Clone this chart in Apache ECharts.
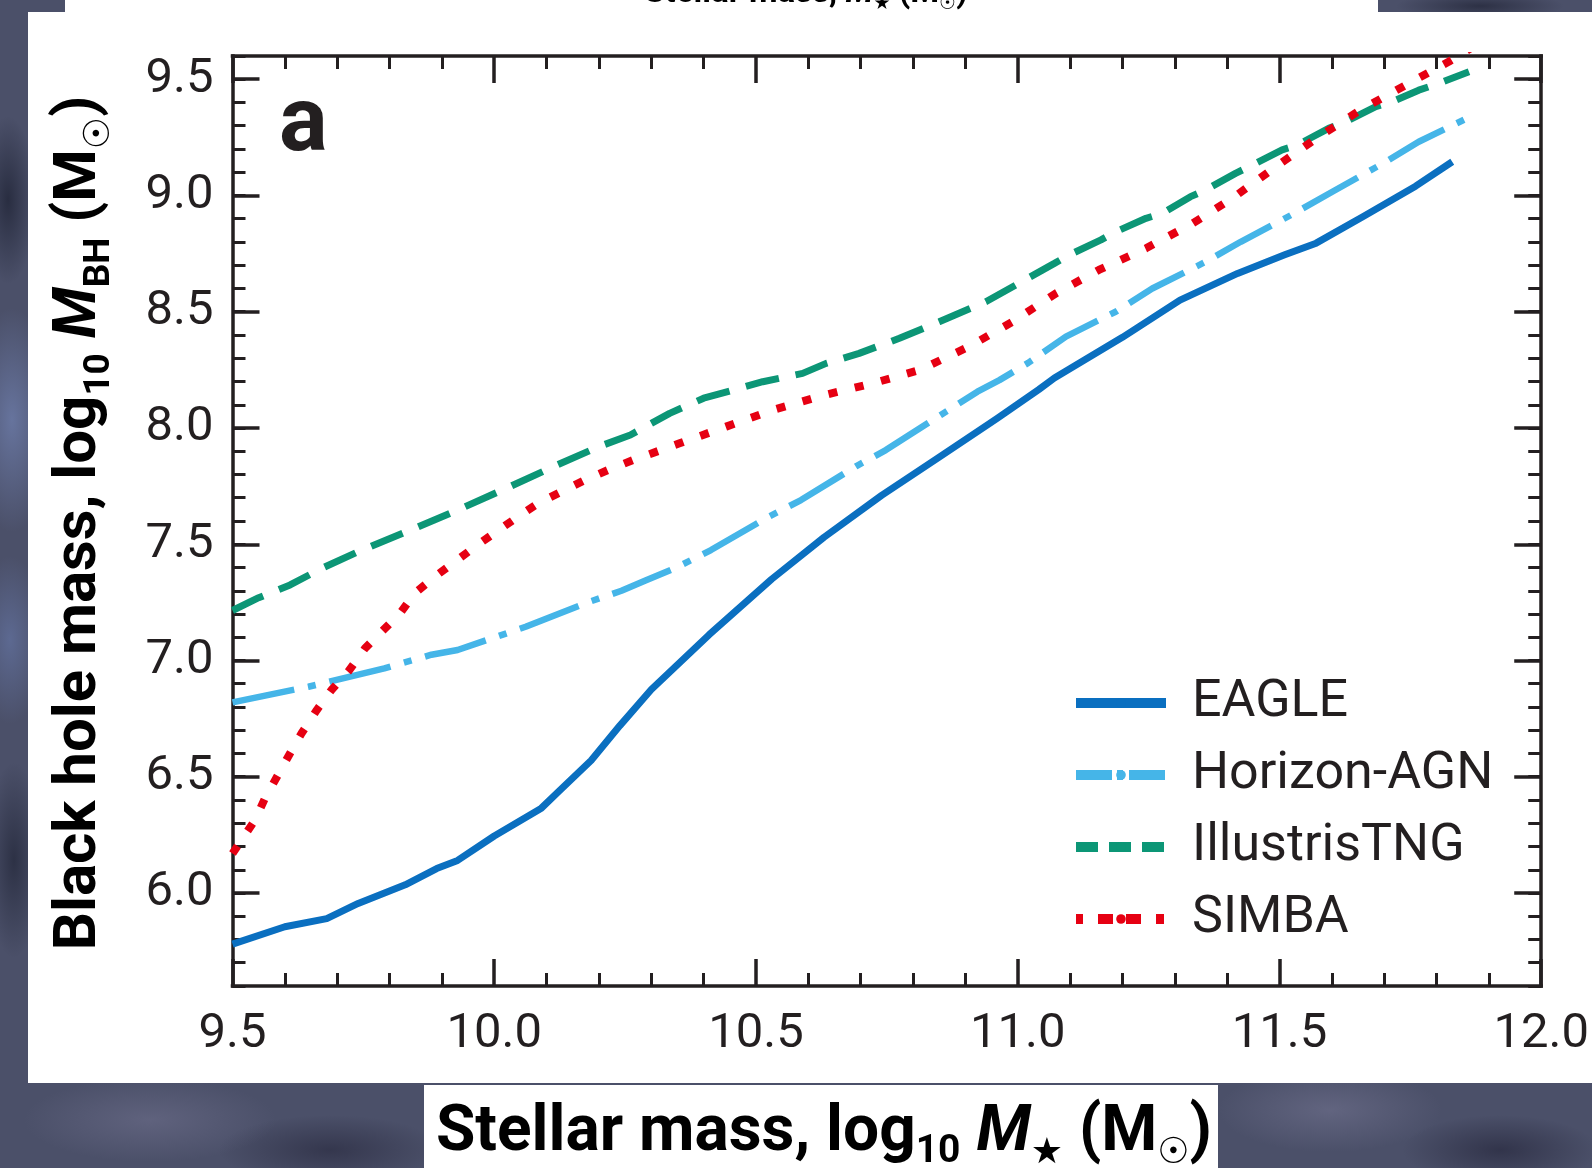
<!DOCTYPE html>
<html>
<head>
<meta charset="utf-8">
<script src="https://cdn.jsdelivr.net/npm/echarts@6/dist/echarts.min.js"></script>
<style>
  html, body { margin: 0; padding: 0; }
  body {
    width: 1592px; height: 1168px; overflow: hidden;
    background:
      radial-gradient(ellipse 60px 160px at 12px 420px, rgba(125,145,200,0.55), rgba(0,0,0,0) 70%),
      radial-gradient(ellipse 50px 120px at 10px 640px, rgba(110,130,185,0.5), rgba(0,0,0,0) 70%),
      radial-gradient(ellipse 40px 140px at 14px 860px, rgba(20,24,40,0.55), rgba(0,0,0,0) 70%),
      radial-gradient(ellipse 40px 120px at 8px 200px, rgba(18,22,38,0.6), rgba(0,0,0,0) 70%),
      radial-gradient(ellipse 180px 60px at 150px 1120px, rgba(120,120,150,0.45), rgba(0,0,0,0) 70%),
      radial-gradient(ellipse 160px 50px at 330px 1150px, rgba(30,30,50,0.5), rgba(0,0,0,0) 70%),
      radial-gradient(ellipse 160px 60px at 1330px 1110px, rgba(125,125,155,0.45), rgba(0,0,0,0) 70%),
      radial-gradient(ellipse 140px 50px at 1500px 1150px, rgba(25,25,45,0.5), rgba(0,0,0,0) 70%),
      radial-gradient(ellipse 120px 20px at 1480px 6px, rgba(25,28,45,0.6), rgba(0,0,0,0) 70%),
      #4b5069;
  }
  #chart { width: 1592px; height: 1168px; }
</style>
</head>
<body>
<div id="chart"></div>
<script>
// Black-hole mass vs stellar mass relations from four cosmological simulations
// (median log10 M_BH at given log10 M_star).

const eagle = [
  [9.50, 5.78], [9.60, 5.855], [9.68, 5.89], [9.74, 5.955], [9.83, 6.035],
  [9.89, 6.105], [9.93, 6.14], [10.00, 6.245], [10.09, 6.365], [10.12, 6.43],
  [10.185, 6.57], [10.24, 6.72], [10.30, 6.875], [10.41, 7.11], [10.53, 7.35],
  [10.63, 7.53], [10.74, 7.71], [10.85, 7.875], [10.96, 8.04], [11.04, 8.165],
  [11.07, 8.215], [11.20, 8.39], [11.31, 8.55], [11.42, 8.665], [11.51, 8.745],
  [11.57, 8.795], [11.66, 8.91], [11.76, 9.04], [11.83, 9.145]
];

const horizonAGN = [
  [9.50, 6.82], [9.645, 6.887], [9.79, 6.966], [9.88, 7.025], [9.93, 7.045],
  [10.06, 7.145], [10.185, 7.255], [10.243, 7.30], [10.29, 7.345], [10.348, 7.40],
  [10.414, 7.475], [10.519, 7.612], [10.586, 7.69], [10.691, 7.835], [10.748, 7.905],
  [10.853, 8.056], [10.923, 8.156], [10.965, 8.206], [11.02, 8.28], [11.092, 8.393],
  [11.187, 8.5], [11.257, 8.6], [11.359, 8.715], [11.426, 8.801], [11.528, 8.923],
  [11.601, 9.016], [11.703, 9.145], [11.766, 9.231], [11.858, 9.332]
];

const illustrisTNG = [
  [9.50, 7.215], [9.55, 7.27], [9.61, 7.325], [9.67, 7.396], [9.74, 7.468],
  [9.84, 7.561], [9.93, 7.647], [10.03, 7.748], [10.12, 7.841], [10.20, 7.92],
  [10.26, 7.97], [10.335, 8.063], [10.40, 8.128], [10.456, 8.163], [10.513, 8.199],
  [10.589, 8.235], [10.634, 8.278], [10.697, 8.321], [10.774, 8.386], [10.85, 8.457],
  [10.939, 8.543], [11.012, 8.635], [11.07, 8.708], [11.098, 8.744], [11.159, 8.809],
  [11.187, 8.844], [11.245, 8.902], [11.276, 8.923], [11.33, 8.995], [11.359, 9.024],
  [11.416, 9.095], [11.448, 9.131], [11.505, 9.196], [11.534, 9.217], [11.594, 9.289],
  [11.626, 9.317], [11.684, 9.382], [11.715, 9.403], [11.766, 9.453], [11.804, 9.482],
  [11.862, 9.532]
];

const simba = [
  [9.50, 6.17], [9.518, 6.23], [9.543, 6.314], [9.562, 6.407], [9.587, 6.508],
  [9.610, 6.601], [9.632, 6.687], [9.661, 6.787], [9.689, 6.873], [9.721, 6.952],
  [9.753, 7.052], [9.785, 7.124], [9.820, 7.203], [9.848, 7.289], [9.886, 7.36],
  [9.925, 7.425], [9.963, 7.489], [10.004, 7.554], [10.045, 7.618], [10.084, 7.676],
  [10.128, 7.726], [10.173, 7.776], [10.217, 7.819], [10.265, 7.862], [10.354, 7.934],
  [10.443, 8.006], [10.532, 8.077], [10.631, 8.142], [10.723, 8.192], [10.812, 8.249],
  [10.907, 8.35], [10.99, 8.457], [11.073, 8.579], [11.155, 8.68], [11.245, 8.773],
  [11.334, 8.88], [11.41, 8.988], [11.493, 9.124], [11.575, 9.253], [11.655, 9.368],
  [11.741, 9.475], [11.823, 9.575], [11.87, 9.64]
];

const seriesNames = ['EAGLE', 'Horizon-AGN', 'IllustrisTNG', 'SIMBA'];
const xRange = [9.5, 12.0];
const yRange = [5.6, 9.6];
const yMajorTicks = [6.0, 6.5, 7.0, 7.5, 8.0, 8.5, 9.0, 9.5];

const INK = '#231f20';
const FONT = "Roboto, 'DejaVu Sans', sans-serif";
const SYM_FONT = "'DejaVu Sans', sans-serif";

const colors = {
  eagle: '#0a6fc0',
  horizon: '#45b5e8',
  tng: '#0c9676',
  simba: '#e60012'
};

const fmt1 = v => Number(v).toFixed(1);

// shared axis pieces
const axisLine = { show: true, onZero: false, lineStyle: { color: INK, width: 3.5, cap: 'square' } };

function xAxisDef(position, showLabel) {
  return {
    type: 'value', position: position, min: xRange[0], max: xRange[1], interval: 0.5,
    axisLine: axisLine,
    axisTick: { show: true, inside: true, length: 27, lineStyle: { color: INK, width: 3.5 } },
    minorTick: { show: true, splitNumber: 5, length: 13, lineStyle: { color: INK, width: 3 } },
    splitLine: { show: false }, minorSplitLine: { show: false },
    axisLabel: { show: showLabel, margin: 24, fontSize: 49, fontFamily: FONT, color: INK, formatter: fmt1 }
  };
}

// fine (0.1) ticks with axis line and labels at the half-unit values
function yMinorDef(position, showLabel) {
  return {
    type: 'value', position: position, offset: 0, min: yRange[0], max: yRange[1], interval: 0.1,
    axisLine: axisLine,
    axisTick: { show: true, inside: true, length: 13, lineStyle: { color: INK, width: 3 } },
    splitLine: { show: false },
    axisLabel: {
      show: showLabel, customValues: yMajorTicks, margin: 19, fontSize: 49,
      fontFamily: FONT, color: INK, formatter: fmt1, padding: [6, 0, 0, 0]
    }
  };
}

// long ticks at the half-unit values
function yMajorDef(position) {
  return {
    type: 'value', position: position, offset: 0, min: yRange[0], max: yRange[1], interval: 0.1,
    axisLine: { show: false },
    axisTick: { show: true, inside: true, length: 27, customValues: yMajorTicks, lineStyle: { color: INK, width: 3.5 } },
    splitLine: { show: false },
    axisLabel: { show: false }
  };
}

function titleRich(size) {
  return {
    t:   { fontFamily: FONT, fontWeight: 'bold', fontSize: size, lineHeight: 76, color: INK },
    ti:  { fontFamily: FONT, fontWeight: 'bold', fontStyle: 'italic', fontSize: size, lineHeight: 76, color: INK },
    s:   { fontFamily: FONT, fontWeight: 'bold', fontSize: Math.round(size * 0.61), lineHeight: 42, verticalAlign: 'bottom', color: INK },
    sym: { fontFamily: SYM_FONT, fontSize: 36, lineHeight: 44, verticalAlign: 'bottom', color: INK },
    u:   { fontFamily: FONT, fontWeight: 'bold', fontSize: 33, lineHeight: 40, color: INK },
    ui:  { fontFamily: FONT, fontWeight: 'bold', fontStyle: 'italic', fontSize: 33, lineHeight: 40, color: INK },
    usym:{ fontFamily: SYM_FONT, fontSize: 19, lineHeight: 23, verticalAlign: 'bottom', color: INK }
  };
}

const chart = echarts.init(document.getElementById('chart'), null, { renderer: 'canvas' });

chart.setOption({
  animation: false,
  backgroundColor: 'transparent',
  grid: { left: 232.5, right: 49.5, top: 56, bottom: 182 },
  xAxis: [xAxisDef('bottom', true), xAxisDef('top', false)],
  yAxis: [yMinorDef('left', true), yMajorDef('left'), yMinorDef('right', false), yMajorDef('right')],
  legend: {
    orient: 'vertical',
    left: 1071, top: 667,
    padding: 0,
    itemWidth: 90, itemHeight: 12, itemGap: 0,
    selectedMode: false,
    textStyle: { fontFamily: FONT, fontSize: 52, color: INK, lineHeight: 50, padding: [22, 0, 0, 21] },
    lineStyle: { width: 10 },
    data: [
      { name: 'EAGLE', lineStyle: { width: 10, type: 'solid' } },
      { name: 'Horizon-AGN', lineStyle: { width: 10, type: [36, 5, 6, 6] } },
      { name: 'IllustrisTNG', lineStyle: { width: 10, type: [22, 11] } },
      { name: 'SIMBA', lineStyle: { width: 10, type: [7, 15, 15, 13, 15, 15, 8, 100] } }
    ]
  },
  series: [
    {
      name: seriesNames[0], type: 'line', data: eagle, symbol: 'none', showSymbol: false,
      lineStyle: { color: colors.eagle, width: 7, join: 'round' }, itemStyle: { color: colors.eagle }, z: 4
    },
    {
      name: seriesNames[1], type: 'line', data: horizonAGN, symbol: 'none', showSymbol: false,
      lineStyle: { color: colors.horizon, width: 6.5, type: [63, 14, 8, 14] }, itemStyle: { color: colors.horizon }, z: 3
    },
    {
      name: seriesNames[2], type: 'line', data: illustrisTNG, symbol: 'none', showSymbol: false,
      lineStyle: { color: colors.tng, width: 7, type: [34, 17] }, itemStyle: { color: colors.tng }, z: 3
    },
    {
      name: seriesNames[3], type: 'line', data: simba, symbol: 'none', showSymbol: false, clip: true,
      lineStyle: { color: colors.simba, width: 8, type: [9, 18] }, itemStyle: { color: colors.simba }, z: 5
    }
  ],
  graphic: [
    { type: 'rect', z: -10, silent: true, shape: { x: 28, y: 12, width: 1564, height: 1071 }, style: { fill: '#ffffff' } },
    { type: 'rect', z: -10, silent: true, shape: { x: 65, y: 0, width: 1313, height: 12 }, style: { fill: '#ffffff' } },
    { type: 'rect', z: -10, silent: true, shape: { x: 424, y: 1085, width: 794, height: 83 }, style: { fill: '#ffffff' } },
    // panel letter
    { type: 'text', z: 10, x: 279, y: 127, style: { text: 'a', fontFamily: FONT, fontWeight: 'bold', fontSize: 91, fill: INK, verticalAlign: 'middle' } },
    // y-axis title
    {
      type: 'text', z: 10, x: 80, y: 523, rotation: Math.PI / 2,
      style: {
        text: '{t|Black hole mass, log}{s|10}{t| }{ti|M}{s|BH}{t| (M}{sym|☉}{t|)}',
        rich: titleRich(60), align: 'center', verticalAlign: 'middle'
      }
    },
    // x-axis title
    {
      type: 'text', z: 10, x: 824, y: 1134,
      style: {
        text: '{t|Stellar mass, log}{s|10}{t| }{ti|M}{sym|★}{t| (M}{sym|☉}{t|)}',
        rich: titleRich(64), align: 'center', verticalAlign: 'middle'
      }
    },
    // caption of the panel above, mostly outside the page
    {
      type: 'text', z: 10, x: 806, y: -6,
      style: {
        text: '{u|Stellar mass, }{ui|M}{usym|★}{u| (M}{usym|☉}{u|)}',
        rich: titleRich(33), align: 'center', verticalAlign: 'middle'
      }
    }
  ]
});
</script>
</body>
</html>
